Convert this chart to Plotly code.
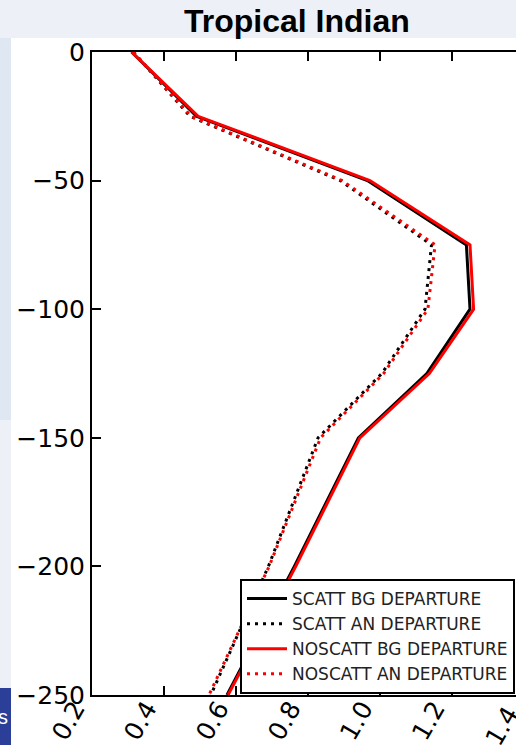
import plotly.graph_objects as go

# ---- data ----
levels = [0, -25, -50, -75, -100, -125, -150, -200, -250]
scatt_bg = [0.310, 0.490, 0.965, 1.240, 1.250, 1.130, 0.940, 0.762, 0.575]
scatt_an = [0.315, 0.472, 0.890, 1.143, 1.125, 1.005, 0.828, 0.690, 0.530]
noscatt_bg = [0.310, 0.495, 0.972, 1.250, 1.260, 1.137, 0.944, 0.766, 0.578]
noscatt_an = [0.315, 0.475, 0.895, 1.153, 1.133, 1.010, 0.835, 0.692, 0.525]
names = ["SCATT BG DEPARTURE", "SCATT AN DEPARTURE",
         "NOSCATT BG DEPARTURE", "NOSCATT AN DEPARTURE"]
x_ticks = [0.2, 0.4, 0.6, 0.8, 1.0, 1.2, 1.4]
y_ticks = [0, -50, -100, -150, -200, -250]
title = "Tropical Indian"

W, H = 516, 745
L, R, T, B = 92, 0, 52, 50
pw, ph = W - L - R, H - T - B
px_per_unit = 360.0
xmin = 0.2
xmax = xmin + pw / px_per_unit

def px2x(px):
    return (px - L) / pw

def py2y(py):
    return (H - B - py) / ph

fig = go.Figure()
styles = [("black", "solid"), ("black", "3px,5px"), ("red", "solid"), ("red", "3px,5px")]
series = [scatt_bg, scatt_an, noscatt_bg, noscatt_an]
for i, (vals, nm, (c, d)) in enumerate(zip(series, names, styles)):
    fig.add_trace(go.Scatter(x=vals, y=levels, mode="lines", name=nm,
                             legendgroup=f"g{i}",
                             line=dict(color=c, width=3, dash=d)))

tickfont = dict(family="DejaVu Sans", size=25, color="black")
fig.update_layout(
    width=W, height=H,
    margin=dict(l=L, r=R, t=T, b=B, pad=0, autoexpand=False),
    paper_bgcolor="#edf1f7",
    plot_bgcolor="white",
    showlegend=True,
    legend=dict(x=px2x(240), y=py2y(579), xanchor="left", yanchor="top",
                bgcolor="white", bordercolor="black", borderwidth=2,
                font=dict(family="DejaVu Sans", size=17, color="#222"),
                tracegroupgap=0, itemwidth=40),
    xaxis=dict(range=[xmin, xmax], tickvals=x_ticks[:-1],
               ticktext=[f"{v:.1f}" for v in x_ticks[:-1]],
               tickangle=-60, ticks="inside", ticklen=9, tickwidth=1.5,
               tickcolor="black", showline=True, linecolor="black", linewidth=2,
               mirror="ticks", showgrid=False, zeroline=False, tickfont=tickfont,
               automargin=False, ticklabelshift=-17, ticklabelstandoff=-13),
    yaxis=dict(range=[-250, 0], tickvals=y_ticks, ticks="inside", ticklen=9,
               tickwidth=1.5, tickcolor="black", showline=True, linecolor="black",
               linewidth=2, mirror=False, showgrid=False, zeroline=False,
               tickfont=tickfont, automargin=False),
    shapes=[
        dict(type="rect", xref="paper", yref="paper", layer="below",
             x0=px2x(-2), x1=px2x(11), y0=py2y(38), y1=py2y(420),
             fillcolor="#dfe7f2", line=dict(width=0)),
        dict(type="rect", xref="paper", yref="paper", layer="below",
             x0=px2x(11), x1=px2x(W + 2), y0=py2y(H + 2), y1=py2y(38),
             fillcolor="white", line=dict(width=0)),
        dict(type="rect", xref="paper", yref="paper", layer="below",
             x0=px2x(-2), x1=px2x(11), y0=py2y(H + 2), y1=py2y(688),
             fillcolor="#2b3f98", line=dict(width=0)),
    ],
    annotations=[
        dict(text=f"<b>{title}</b>", xref="paper", yref="paper",
             x=px2x(297), y=py2y(21), xanchor="center", yanchor="middle",
             showarrow=False,
             font=dict(family="Liberation Sans", size=32, color="black")),
        dict(text=f"{x_ticks[-1]:.1f}", xref="paper", yref="paper",
             x=px2x(L + (x_ticks[-1] - xmin) * px_per_unit + 3), y=py2y(H - B + 4),
             xanchor="right", yanchor="top", textangle=-60, showarrow=False,
             font=tickfont),
        dict(text="s", xref="paper", yref="paper", x=px2x(-4), y=py2y(717),
             xanchor="left", yanchor="middle", showarrow=False,
             font=dict(family="Liberation Sans", size=20, color="white")),
    ],
)

fig.write_html("out.html",
               config=dict(displayModeBar=False),
               post_script="document.body.style.margin='0';"
                           "document.body.style.overflow='hidden';")
